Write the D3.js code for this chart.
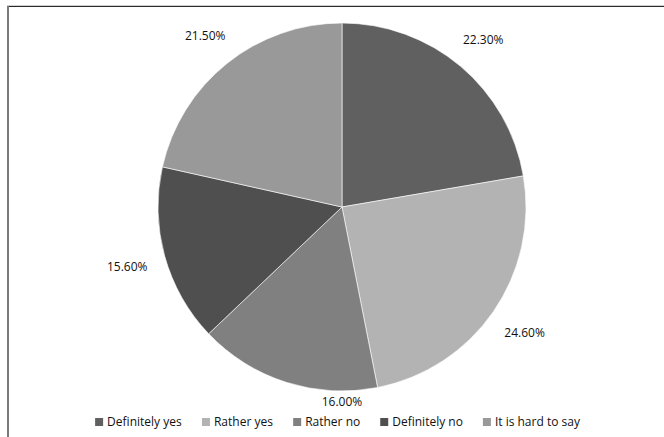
<!DOCTYPE html>
<html>
<head>
<meta charset="utf-8">
<script src="https://cdn.jsdelivr.net/npm/d3@7"></script>
<style>
  body { margin: 0; background: #fff; }
  svg { display: block; font-family: "Open Sans", "Noto Sans", sans-serif; }
</style>
</head>
<body>
<svg id="chart" width="664" height="437"></svg>
<script>
// answers and their shares (%)
const categories = ["Definitely yes", "Rather yes", "Rather no", "Definitely no", "It is hard to say"];
const shares = [22.3, 24.6, 16.0, 15.6, 21.5];
const colors = ["#606060", "#b3b3b3", "#808080", "#4f4f4f", "#999999"];

const width = 664, height = 437;
const cx = 342, cy = 207, radius = 184;
const legendY = 422;

const data = categories.map((c, i) => ({ name: c, value: shares[i] }));

const svg = d3.select("#chart");

// outer frame (only top and left edges show in the crop)
svg.append("line")
  .attr("x1", 7).attr("x2", width).attr("y1", 5.5).attr("y2", 5.5)
  .attr("stroke", "#d0d0d0").attr("stroke-width", 1);
svg.append("line")
  .attr("x1", 7).attr("x2", width).attr("y1", 6.5).attr("y2", 6.5)
  .attr("stroke", "#2a2a2a").attr("stroke-width", 1.2);
svg.append("line")
  .attr("x1", 8).attr("x2", 8).attr("y1", 6).attr("y2", height)
  .attr("stroke", "#7a7a7a").attr("stroke-width", 2);

const pie = d3.pie().value(d => d.value).sort(null);
const arc = d3.arc().innerRadius(0).outerRadius(radius);
const arcs = pie(data);

const g = svg.append("g").attr("transform", `translate(${cx},${cy})`);

g.selectAll("path.slice")
  .data(arcs)
  .enter()
  .append("path")
    .attr("class", "slice")
    .attr("d", arc)
    .attr("fill", (d, i) => colors[i])
    .attr("stroke", "#ffffff")
    .attr("stroke-width", 0.6);

// value labels, outside end of each slice; keep clear of the legend
const fmt = d => d.toFixed(2) + "%";
const pad = 17, hw = 21, hh = 6;
const maxY = legendY - cy - 20;
function labelPos(d) {
  let a = (d.startAngle + d.endAngle) / 2;
  let s = Math.sin(a), c = Math.cos(a);
  let r = radius + pad + hw * Math.abs(s) + hh * Math.abs(c);
  let x = r * s, y = -r * c;
  if (y > maxY) {
    // slide toward the bottom-most point of the slice
    a = Math.max(d.startAngle, Math.min(d.endAngle, Math.PI));
    x = (radius + pad) * Math.sin(a);
    y = maxY;
  }
  return [x, y];
}

g.selectAll("text.lbl")
  .data(arcs)
  .enter()
  .append("text")
    .attr("class", "lbl")
    .attr("transform", d => `translate(${labelPos(d)})`)
    .attr("text-anchor", "middle")
    .attr("dy", "0.35em")
    .attr("font-size", "12px")
    .attr("fill", "#111")
    .text(d => fmt(d.data.value));

// legend along the bottom
const legend = svg.append("g");
const box = 8, gapText = 4, gapItem = 20;
const items = legend.selectAll("g.item")
  .data(data)
  .enter()
  .append("g")
    .attr("class", "item");

items.append("rect")
  .attr("width", box).attr("height", box)
  .attr("y", -box / 2)
  .attr("fill", (d, i) => colors[i]);

items.append("text")
  .attr("x", box + gapText)
  .attr("dy", "0.35em")
  .attr("font-size", "12px")
  .attr("fill", "#111")
  .text(d => d.name);

let offset = 0;
items.each(function() {
  const w = this.getBBox().width;
  d3.select(this).attr("transform", `translate(${offset},0)`);
  offset += w + gapItem;
});
const total = offset - gapItem;
legend.attr("transform", `translate(${cx - total / 2 - 4},${legendY})`);
</script>
</body>
</html>
